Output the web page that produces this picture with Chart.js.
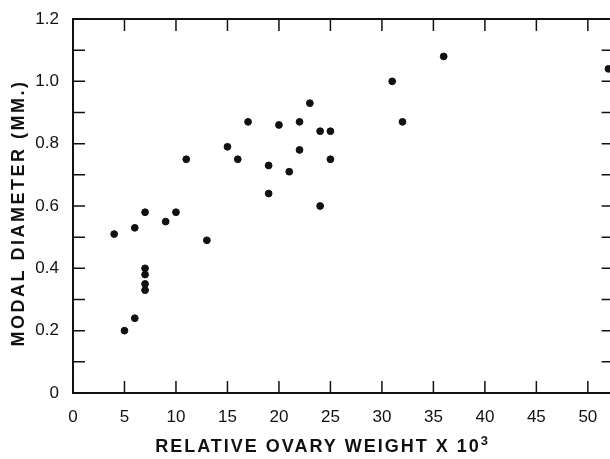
<!DOCTYPE html>
<html>
<head>
<meta charset="utf-8">
<script src="https://cdn.jsdelivr.net/npm/chart.js@4.4.0/dist/chart.umd.min.js"></script>
<style>
    html, body { margin: 0; padding: 0; background: #fff; overflow: hidden; }
    #wrap { width: 618px; height: 459px; }
</style>
</head>
<body>
<div id="wrap"><canvas id="ovaryChart" width="618" height="459"></canvas></div>
<script>
// relative ovary weight (x 10^3) vs modal egg diameter (mm)
const weights   = [4, 5, 6, 6, 7, 7, 7, 7, 7, 9, 10, 11, 13, 15, 16, 17, 19, 19, 20, 21, 22, 22, 23, 24, 24, 25, 25, 31, 32, 36, 52];
const diameters = [0.51, 0.20, 0.24, 0.53, 0.58, 0.40, 0.38, 0.35, 0.33, 0.55, 0.58, 0.75, 0.49, 0.79, 0.75, 0.87, 0.73, 0.64, 0.86, 0.71, 0.87, 0.78, 0.93, 0.84, 0.60, 0.84, 0.75, 1.00, 0.87, 1.08, 1.04];

const xTicks = [0, 5, 10, 15, 20, 25, 30, 35, 40, 45, 50];
const yTicks = [0, 0.1, 0.2, 0.3, 0.4, 0.5, 0.6, 0.7, 0.8, 0.9, 1.0, 1.1, 1.2];

const xTitle = 'RELATIVE OVARY WEIGHT X 10';
const xTitleExp = '3';
const yTitle = 'MODAL DIAMETER (MM.)';

const INK = '#111';
const TICK_LEN = 12;

// frame with inward ticks on all four sides, like the printed figure
const framePlugin = {
    id: 'frame',
    afterDraw(chart) {
        const { ctx, chartArea: a, scales } = chart;
        ctx.save();
        ctx.strokeStyle = INK;
        ctx.lineWidth = 2;
        ctx.strokeRect(a.left, a.top, a.right - a.left, a.bottom - a.top);

        ctx.lineWidth = 1.5;
        ctx.beginPath();
        xTicks.forEach(v => {
            const x = scales.x.getPixelForValue(v);
            ctx.moveTo(x, a.bottom);
            ctx.lineTo(x, a.bottom - TICK_LEN);
            ctx.moveTo(x, a.top);
            ctx.lineTo(x, a.top + TICK_LEN);
        });
        yTicks.forEach(v => {
            const y = scales.y.getPixelForValue(v);
            ctx.moveTo(a.left, y);
            ctx.lineTo(a.left + TICK_LEN, y);
            ctx.moveTo(a.right, y);
            ctx.lineTo(a.right - TICK_LEN, y);
        });
        ctx.stroke();

        // axis titles, spaced out like the lettering on the original
        ctx.fillStyle = INK;
        ctx.font = 'bold 18px "Liberation Sans", Arial, sans-serif';
        ctx.textBaseline = 'middle';
        ctx.letterSpacing = '2px';
        const w = ctx.measureText(xTitle).width;
        const x0 = 318 - w / 2;
        ctx.textAlign = 'left';
        ctx.fillText(xTitle, x0, 447);
        ctx.font = 'bold 13px "Liberation Sans", Arial, sans-serif';
        ctx.fillText(xTitleExp, x0 + w, 441);

        ctx.font = 'bold 18px "Liberation Sans", Arial, sans-serif';
        ctx.textAlign = 'center';
        ctx.letterSpacing = '2.5px';
        ctx.translate(19, 213);
        ctx.rotate(-Math.PI / 2);
        ctx.fillText(yTitle, 0, 0);
        ctx.restore();
    }
};

const chart = new Chart(document.getElementById('ovaryChart'), {
    type: 'scatter',
    data: {
        datasets: [{
            data: weights.map((w, i) => ({ x: w, y: diameters[i] })),
            backgroundColor: INK,
            borderColor: INK,
            pointRadius: 3.4,
            pointHoverRadius: 3.4
        }]
    },
    options: {
        responsive: false,
        animation: false,
        layout: { padding: { top: 19, left: 0, right: 0, bottom: 0 } },
        plugins: {
            legend: { display: false },
            tooltip: { enabled: false }
        },
        scales: {
            x: {
                type: 'linear',
                min: 0,
                max: 52.5,
                grid: { display: false },
                border: { display: false },
                afterFit: scale => { scale.height = 66; },
                ticks: {
                    stepSize: 5,
                    includeBounds: false,
                    padding: 6,
                    color: INK,
                    font: { family: '"Liberation Sans", Arial, sans-serif', size: 17 }
                }
            },
            y: {
                min: 0,
                max: 1.2,
                grid: { display: false },
                border: { display: false },
                afterFit: scale => { scale.width = 73; },
                ticks: {
                    stepSize: 0.2,
                    padding: 6,
                    color: INK,
                    font: { family: '"Liberation Sans", Arial, sans-serif', size: 17 },
                    callback: v => v === 0 ? '0' : v.toFixed(1)
                }
            }
        }
    },
    plugins: [framePlugin]
});
</script>
</body>
</html>
